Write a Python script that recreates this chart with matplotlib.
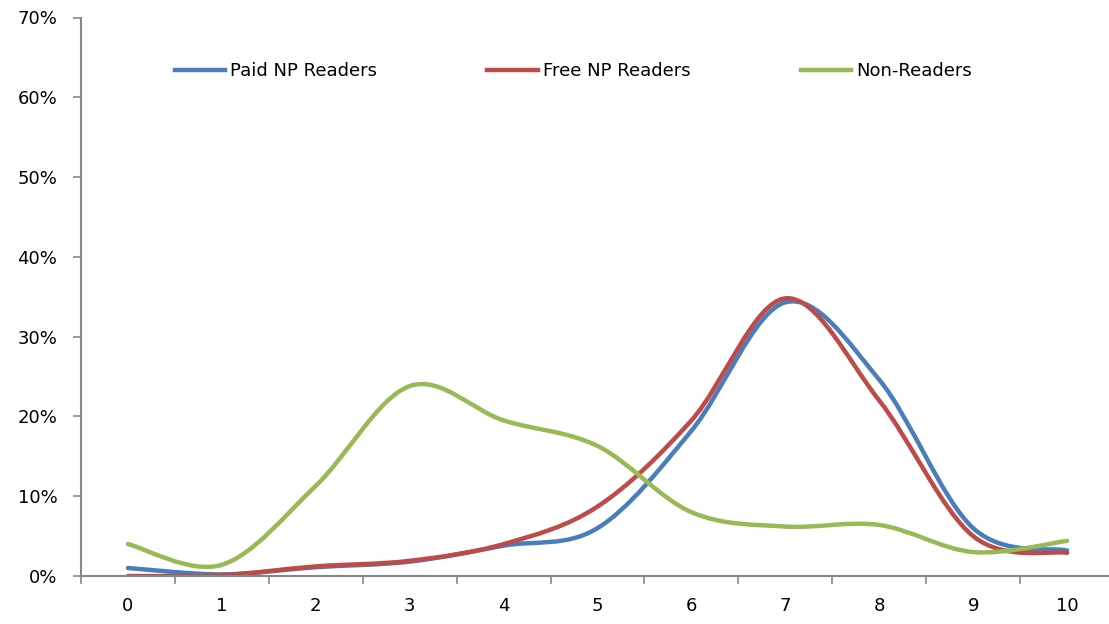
import matplotlib
matplotlib.use("Agg")
import matplotlib.pyplot as plt
from matplotlib.path import Path
from matplotlib.patches import PathPatch
from matplotlib.lines import Line2D
from matplotlib.ticker import FuncFormatter, MultipleLocator

plt.rcParams["font.family"] = ["DejaVu Sans"]

# Data (share of respondents, %)
scores = [0, 1, 2, 3, 4, 5, 6, 7, 8, 9, 10]
paid_np = [1.0, 0.2, 1.1, 1.8, 3.8, 6.0, 18.2, 34.3, 24.6, 6.0, 3.2]
free_np = [0.0, 0.1, 1.2, 1.9, 4.0, 8.7, 19.5, 34.8, 22.0, 5.0, 2.9]
non_readers = [4.0, 1.4, 11.3, 23.8, 19.5, 16.3, 8.0, 6.2, 6.4, 3.0, 4.4]

series = [
    ("Paid NP Readers", paid_np, "#4A7EBB"),
    ("Free NP Readers", free_np, "#BE4B48"),
    ("Non-Readers", non_readers, "#98B954"),
]

axis_color = "#868686"
font_size = 13


def smooth_path(xs, ys):
    # Excel-style smoothed line: cubic Bezier segments through every point
    pts = list(zip(xs, ys))
    n = len(pts)
    verts = [pts[0]]
    codes = [Path.MOVETO]
    for i in range(n - 1):
        p0 = pts[max(i - 1, 0)]
        p1 = pts[i]
        p2 = pts[i + 1]
        p3 = pts[min(i + 2, n - 1)]
        c1 = (p1[0] + (p2[0] - p0[0]) / 6, p1[1] + (p2[1] - p0[1]) / 6)
        c2 = (p2[0] - (p3[0] - p1[0]) / 6, p2[1] - (p3[1] - p1[1]) / 6)
        verts += [c1, c2, p2]
        codes += [Path.CURVE4] * 3
    return Path(verts, codes)


fig = plt.figure(figsize=(11.09, 6.24), dpi=100)
ax = fig.add_axes([81 / 1109, 48 / 624, 1033 / 1109, 558.5 / 624])

handles = []
for name, values, color in series:
    patch = PathPatch(smooth_path(scores, values), facecolor="none", edgecolor=color,
                      linewidth=3.2, capstyle="round", joinstyle="round")
    ax.add_patch(patch)
    handles.append(Line2D([], [], color=color, linewidth=3.2, label=name))

ax.set_xlim(-0.5, 10.5)
ax.set_ylim(0, 70)

ax.yaxis.set_major_locator(MultipleLocator(10))
ax.yaxis.set_major_formatter(FuncFormatter(lambda v, p: f"{v:.0f}%"))
ax.set_xticks(scores)
ax.set_xticks([s + 0.5 for s in scores[:-1]] + [-0.5], minor=True)

for side in ["top", "right"]:
    ax.spines[side].set_visible(False)
for side in ["left", "bottom"]:
    ax.spines[side].set_color(axis_color)
    ax.spines[side].set_linewidth(1.5)

ax.tick_params(axis="y", which="major", direction="out", length=6, width=1.2,
               color=axis_color, pad=11, labelsize=font_size)
ax.tick_params(axis="x", which="major", length=0, pad=15, labelsize=font_size)
ax.tick_params(axis="x", which="minor", direction="out", length=6, width=1.2,
               color=axis_color)

ax.legend(handles=handles, loc="center", bbox_to_anchor=(0.4767, 0.904), ncol=3,
          frameon=False, fontsize=font_size, handlelength=2.8, handletextpad=0.28,
          columnspacing=6.1)

fig.savefig("out.png", dpi=100)
